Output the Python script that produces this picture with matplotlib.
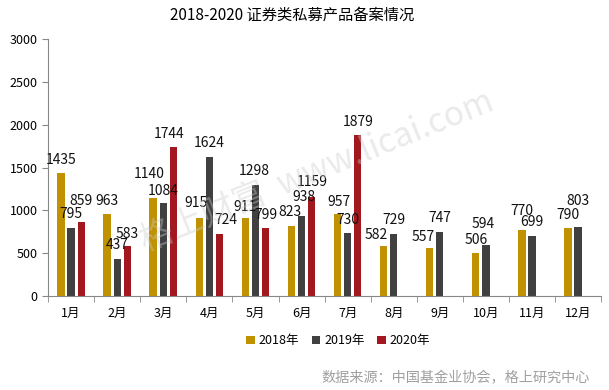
import matplotlib
matplotlib.use("Agg")
import matplotlib.pyplot as plt
import numpy as np

plt.rcParams['font.family'] = ['Noto Sans CJK SC', 'DejaVu Sans']

months = ['1月', '2月', '3月', '4月', '5月', '6月', '7月', '8月', '9月', '10月', '11月', '12月']
y2018 = [1435, 963, 1140, 915, 911, 823, 957, 582, 557, 506, 770, 790]
y2019 = [795, 437, 1084, 1624, 1298, 938, 730, 729, 747, 594, 699, 803]
y2020 = [859, 583, 1744, 724, 799, 1159, 1879]
series_names = ['2018年', '2019年', '2020年']
colors = ['#C09100', '#404040', '#A3171F']

# label nudges (pixels: dx, dy of label centre above bar top), as placed in the original
nudge = [
    [(0, 13), (0, 13), (-4, 24), (-3, 15), (0, 11), (-1, 14), (1, 12), (-7, 11), (-6, 11), (0, 13), (0, 19), (0, 13)],
    [(0, 14), (0, 14), (0, 12), (0, 14), (-1, 14), (2, 19), (0, 13), (0, 14), (0, 14), (-3, 21), (0, 14), (0, 26)],
    [(0, 21), (0, 12), (-4, 13), (6, 14), (0, 13), (1, 15), (0, 13)],
]

fig = plt.figure(figsize=(6.09, 3.9), dpi=100)
ax = fig.add_axes([0.079, 0.241, 0.908, 0.659])

x = np.arange(len(months))
w = 0.16
step = 0.22
all_series = [y2018, y2019, y2020]
for i, (vals, c, name) in enumerate(zip(all_series, colors, series_names)):
    xs = x[:len(vals)] + (i - 1) * step
    ax.bar(xs, vals, width=w, color=c, label=name, zorder=2)
    for xi, v, (dx, dy) in zip(xs, vals, nudge[i]):
        ax.annotate(str(v), (xi, v), xytext=(dx * 0.72, dy * 0.72), textcoords='offset points',
                    ha='center', va='center', fontsize=10, color='#111111', zorder=3)

ax.set_xlim(-0.5, len(months) - 0.5)
ax.set_ylim(0, 3000)
ax.set_yticks(range(0, 3001, 500))
ax.set_xticks(x)
ax.set_xticklabels(months)
ax.set_xticks(np.arange(-0.5, len(months)), minor=True)
ax.tick_params(axis='x', which='major', length=0, labelsize=9, pad=8)
ax.tick_params(axis='x', which='minor', length=4, color='#888888')
ax.tick_params(axis='y', labelsize=9, length=4, color='#888888')
for s in ['top', 'right']:
    ax.spines[s].set_visible(False)
for s in ['left', 'bottom']:
    ax.spines[s].set_color('#888888')

fig.text(0.48, 0.96, '2018-2020 证券类私募产品备案情况', ha='center', va='center', fontsize=11)
fig.legend(loc='center', bbox_to_anchor=(0.555, 0.126), ncol=3, frameon=False,
           handlelength=0.7, handleheight=0.7, handletextpad=0.3, columnspacing=1.0,
           fontsize=9)
fig.text(0.968, 0.031, '数据来源：中国基金业协会，格上研究中心', ha='right', va='center',
         fontsize=10.2, color='#A0A0A0')
fig.text(0.52, 0.56, '格上财富  www.licai.com', ha='center', va='center', fontsize=24,
         color='#CCCCCC', alpha=0.4, rotation=22, zorder=1)

fig.savefig('out.png', dpi=100)
